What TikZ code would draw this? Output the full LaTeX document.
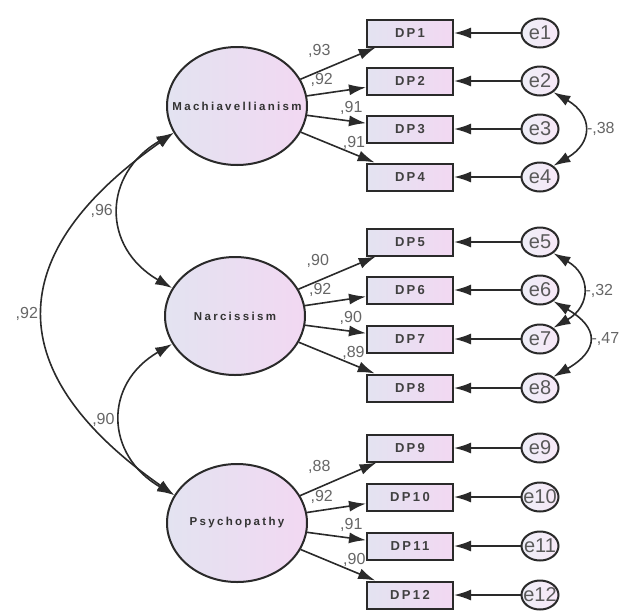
\documentclass[tikz,border=0pt]{standalone}
\usepackage{fontspec}
\setmainfont{Liberation Sans}
\newfontfamily\latfont[LetterSpace=20]{Liberation Sans}
\newfontfamily\obsfont[LetterSpace=18]{Liberation Sans}
\usetikzlibrary{shapes.geometric,arrows.meta,positioning}
\definecolor{fillL}{HTML}{E3E3F1}
\definecolor{fillR}{HTML}{F2D8F2}
\definecolor{lineC}{HTML}{2A2A2A}
\definecolor{numC}{HTML}{666666}
\newcommand{\ctr}[1]{\makebox[0pt]{#1}}
\begin{document}
\begin{tikzpicture}[x=1pt,y=1pt,node distance=130pt,
	lat/.style={ellipse,draw=lineC,line width=2pt,left color=fillL,right color=fillR,minimum width=140pt,minimum height=118pt,inner sep=0pt,text=black!80,font=\latfont\bfseries\fontsize{11.5}{13}\selectfont},
	obs/.style={draw=lineC,line width=2pt,left color=fillL,right color=fillR,minimum width=86pt,minimum height=27pt,inner sep=0pt,text=black!75,font=\obsfont\bfseries\fontsize{13}{14}\selectfont},
	err/.style={ellipse,draw=lineC,line width=2pt,left color=fillL!60!white,right color=fillR!60!white,minimum width=37pt,minimum height=29pt,inner sep=0pt,text=black!65,font=\fontsize{20}{20}\selectfont},
	ld/.style={->,draw=lineC,line width=1.6pt},
	cov/.style={<->,draw=lineC,line width=1.6pt},
	lbl/.style={text=numC,inner sep=1pt,font=\fontsize{16}{16}\selectfont},
	>={Latex[length=17pt,width=11pt]}]
	\useasboundingbox (0,0) rectangle (621,-611);

	% latent variables
	\node[lat] (mach) at (237,-106) {\ctr{Machiavellianism}};
	\node[lat] (narc) at (235,-316) {\ctr{Narcissism}};
	\node[lat] (psy) at (237,-523) {\ctr{Psychopathy}};

	% indicators
	\node[obs] (dp1) at (410,-33) {DP1};
	\node[obs] (dp2) at (410,-81) {DP2};
	\node[obs] (dp3) at (410,-129) {DP3};
	\node[obs] (dp4) at (410,-177) {DP4};
	\node[obs] (dp5) at (410,-242) {DP5};
	\node[obs] (dp6) at (410,-290) {DP6};
	\node[obs] (dp7) at (410,-339) {DP7};
	\node[obs] (dp8) at (410,-388) {DP8};
	\node[obs] (dp9) at (410,-448) {DP9};
	\node[obs] (dp10) at (410,-497) {DP10};
	\node[obs] (dp11) at (410,-546) {DP11};
	\node[obs] (dp12) at (410,-595) {DP12};

	% errors
	\node[err] (e1) [right of=dp1] {\ctr{e1}};
	\node[err] (e2) [right of=dp2] {\ctr{e2}};
	\node[err] (e3) [right of=dp3] {\ctr{e3}};
	\node[err] (e4) [right of=dp4] {\ctr{e4}};
	\node[err] (e5) [right of=dp5] {\ctr{e5}};
	\node[err] (e6) [right of=dp6] {\ctr{e6}};
	\node[err] (e7) [right of=dp7] {\ctr{e7}};
	\node[err] (e8) [right of=dp8] {\ctr{e8}};
	\node[err] (e9) [right of=dp9] {\ctr{e9}};
	\node[err] (e10) [right of=dp10] {\ctr{e10}};
	\node[err] (e11) [right of=dp11] {\ctr{e11}};
	\node[err] (e12) [right of=dp12] {\ctr{e12}};

	% loadings
	\draw[ld] (mach) -- node[lbl,pos=.25,above=12pt] {,93} (dp1);
	\draw[ld] (mach) -- node[lbl,pos=.25,above=5pt] {,92} (dp2);
	\draw[ld] (mach) -- node[lbl,pos=.75,above=5pt] {,91} (dp3);
	\draw[ld] (mach) -- node[lbl,pos=.72,above=3pt] {,91} (dp4);
	\draw[ld] (narc) -- node[lbl,pos=.25,above=12pt] {,90} (dp5);
	\draw[ld] (narc) -- node[lbl,pos=.25,above=5pt] {,92} (dp6);
	\draw[ld] (narc) -- node[lbl,pos=.75,above=5pt] {,90} (dp7);
	\draw[ld] (narc) -- node[lbl,pos=.72,above=3pt] {,89} (dp8);
	\draw[ld] (psy) -- node[lbl,pos=.25,above=12pt] {,88} (dp9);
	\draw[ld] (psy) -- node[lbl,pos=.25,above=5pt] {,92} (dp10);
	\draw[ld] (psy) -- node[lbl,pos=.75,above=5pt] {,91} (dp11);
	\draw[ld] (psy) -- node[lbl,pos=.72,above=3pt] {,90} (dp12);

	% error paths
	\draw[ld] (e1) -- (dp1);
	\draw[ld] (e2) -- (dp2);
	\draw[ld] (e3) -- (dp3);
	\draw[ld] (e4) -- (dp4);
	\draw[ld] (e5) -- (dp5);
	\draw[ld] (e6) -- (dp6);
	\draw[ld] (e7) -- (dp7);
	\draw[ld] (e8) -- (dp8);
	\draw[ld] (e9) -- (dp9);
	\draw[ld] (e10) -- (dp10);
	\draw[ld] (e11) -- (dp11);
	\draw[ld] (e12) -- (dp12);

	% correlations
	\draw[cov] (mach.203) to[out=210,in=150,looseness=1.35] node[lbl,left=5pt] {,96} (narc.156);
	\draw[cov] (mach.203) to[out=215,in=145,looseness=1.5] node[lbl,left=4pt] {,92} (psy.156);
	\draw[cov] (narc.204) to[out=210,in=150,looseness=1.35] node[lbl,left=5pt] {,90} (psy.156);
	\draw[cov] (e2.-40) to[out=-30,in=30,looseness=1.6] node[lbl,right=2pt] {-,38} (e4.40);
	\draw[cov] (e5.-40) to[out=-30,in=30,looseness=1.5] node[lbl,right=2pt] {-,32} (e7.40);
	\draw[cov] (e6.-40) to[out=-30,in=30,looseness=1.8] node[lbl,right=2pt] {-,47} (e8.40);
\end{tikzpicture}
\end{document}
